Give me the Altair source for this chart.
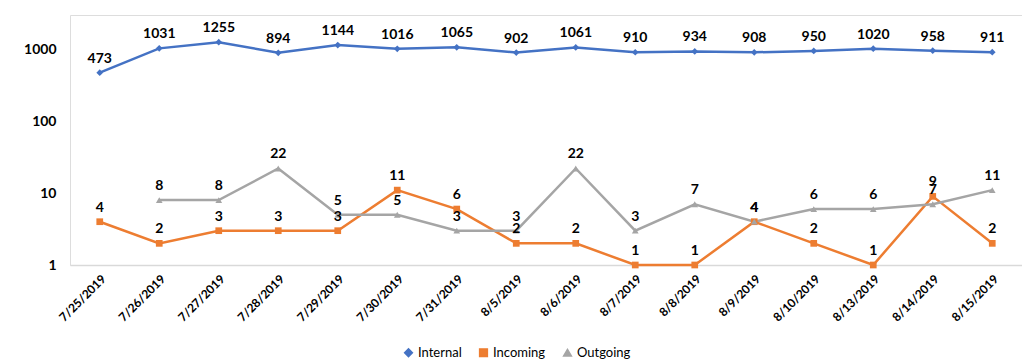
import altair as alt
import pandas as pd

dates = ["7/25/2019", "7/26/2019", "7/27/2019", "7/28/2019", "7/29/2019", "7/30/2019",
         "7/31/2019", "8/5/2019", "8/6/2019", "8/7/2019", "8/8/2019", "8/9/2019",
         "8/10/2019", "8/13/2019", "8/14/2019", "8/15/2019"]
internal = [473, 1031, 1255, 894, 1144, 1016, 1065, 902, 1061, 910, 934, 908, 950, 1020, 958, 911]
incoming = [4, 2, 3, 3, 3, 11, 6, 2, 2, 1, 1, 4, 2, 1, 9, 2]
outgoing = [None, 8, 8, 22, 5, 5, 3, 3, 22, 3, 7, 4, 6, 6, 7, 11]

series_names = ["Internal", "Incoming", "Outgoing"]
series_colors = ["#4472C4", "#ED7D31", "#A5A5A5"]
series_shapes = ["diamond", "square", "triangle-up"]

rows = []
for s, vals in zip(series_names, [internal, incoming, outgoing]):
    for d, v in zip(dates, vals):
        if v is not None:
            rows.append({"date": d, "series": s, "value": v})
df = pd.DataFrame(rows)

FONT = "Lato"

x = alt.X("date:N", sort=dates, title=None,
          axis=alt.Axis(labelAngle=-45, labelFontSize=12, labelFontWeight="bold",
                        labelFont=FONT, labelColor="#000000", domainColor="#d9d9d9",
                        domainWidth=1.5, ticks=False, labelPadding=8))
y = alt.Y("value:Q", title=None,
          scale=alt.Scale(type="log", domain=[1, 3000]),
          axis=alt.Axis(values=[1, 10, 100, 1000], format="d", grid=False, domain=False,
                        ticks=False, labelPadding=14, labelFontSize=14,
                        labelFontWeight="bold", labelFont=FONT, labelColor="#000000"))

color = alt.Color("series:N", title=None,
                  scale=alt.Scale(domain=series_names, range=series_colors),
                  legend=alt.Legend(orient="none", legendX=332, legendY=331,
                                    direction="horizontal", labelFontSize=13,
                                    labelFont=FONT, labelColor="#000000",
                                    symbolSize=60, columnPadding=14, labelOffset=3))
shape = alt.Shape("series:N", title=None,
                  scale=alt.Scale(domain=series_names, range=series_shapes))

base = alt.Chart(df)

lines = base.mark_line(strokeWidth=2.5).encode(x=x, y=y, color=color, detail="series:N")
points = base.mark_point(filled=True, size=45, opacity=1).encode(x=x, y=y, color=color, shape=shape)
labels = base.mark_text(dy=-7, baseline="bottom", fontWeight="bold", fontSize=14,
                        font=FONT, color="#000000").encode(x=x, y=y, text="value:Q")

chart = alt.layer(lines, points, labels).properties(
    width=952, height=250,
    autosize=alt.AutoSizeParams(type="none"),
    padding={"left": 70, "top": 15, "right": 0, "bottom": 99},
).configure_view(stroke=None).configure(background="#ffffff")

chart.save("out.html", embed_options={"renderer": "svg", "actions": False})
